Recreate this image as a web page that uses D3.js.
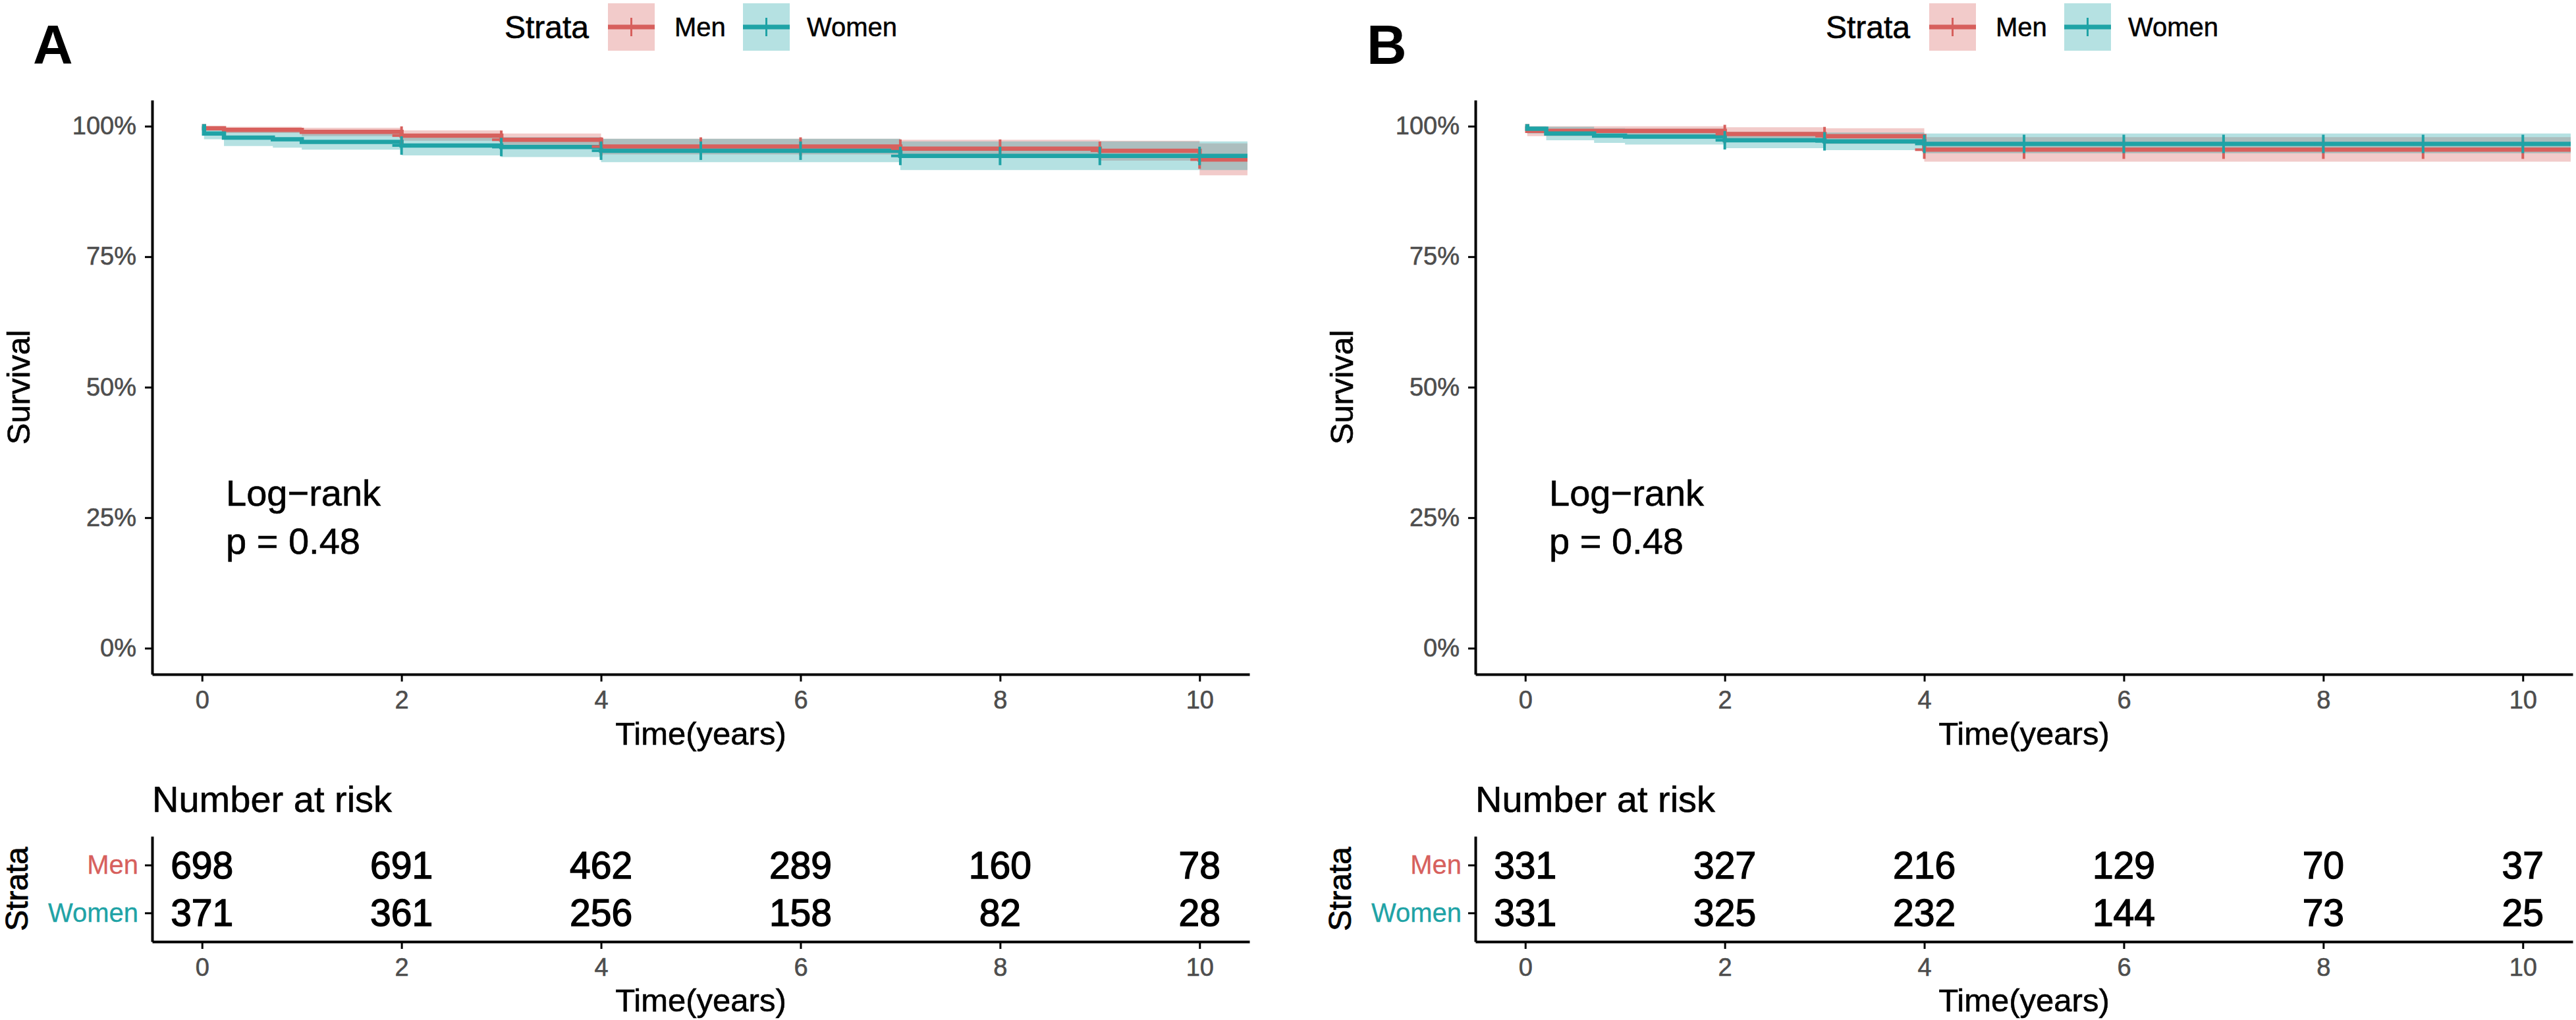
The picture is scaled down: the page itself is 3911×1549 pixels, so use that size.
<!DOCTYPE html>
<html><head><meta charset="utf-8">
<script src="https://cdn.jsdelivr.net/npm/d3@7"></script>
<style>
body{margin:0;background:#fff}
svg{display:block}
text{font-family:"Liberation Sans",Arial,Helvetica,sans-serif}
</style>
</head><body>
<svg id="c" width="3911" height="1549"></svg>
<script>
// ---------- data ----------
const strata = ["Men", "Women"];
const strataColors = ["#D7605D", "#1FA3A6"];
const timeTicks = [0, 2, 4, 6, 8, 10];
const survTicks = [0, 0.25, 0.5, 0.75, 1];
const panelLabels = ["A", "B"];
const testName = "Log\u2212rank";
const pValues = ["p = 0.48", "p = 0.48"];
const followUpEnd = [10.48, 10.48];

// Panel A
const menA_time   = [0, 0.02, 0.22, 1, 2, 3, 4, 7, 9, 10];
const menA_surv   = [1, 0.996, 0.993, 0.989, 0.982, 0.974, 0.961, 0.957, 0.953, 0.936];
const menA_lower  = [1, 0.991, 0.987, 0.981, 0.972, 0.962, 0.946, 0.940, 0.934, 0.906];
const menA_upper  = [1, 1.000, 0.999, 0.997, 0.992, 0.986, 0.976, 0.974, 0.972, 0.967];
const menA_censor = [2, 3, 4, 5, 6, 7, 8, 9, 10];

const womenA_time   = [0, 0.02, 0.22, 0.71, 1, 2, 3, 4, 7];
const womenA_surv   = [1, 0.986, 0.978, 0.975, 0.970, 0.963, 0.960, 0.953, 0.943];
const womenA_lower  = [1, 0.975, 0.962, 0.959, 0.955, 0.944, 0.941, 0.931, 0.916];
const womenA_upper  = [1, 0.998, 0.993, 0.991, 0.987, 0.982, 0.979, 0.976, 0.971];
const womenA_censor = [2, 3, 4, 5, 6, 7, 8, 9, 10];

const riskA_men   = [698, 691, 462, 289, 160, 78];
const riskA_women = [371, 361, 256, 158, 82, 28];

// Panel B
const menB_time   = [0, 0.02, 2, 3, 4];
const menB_surv   = [1, 0.991, 0.985, 0.981, 0.955];
const menB_lower  = [1, 0.981, 0.972, 0.966, 0.932];
const menB_upper  = [1, 1.000, 0.998, 0.996, 0.979];
const menB_censor = [2, 3, 4, 5, 6, 7, 8, 9, 10];

const womenB_time   = [0, 0.02, 0.21, 0.69, 1, 2, 3, 4];
const womenB_surv   = [1, 0.995, 0.986, 0.982, 0.980, 0.973, 0.971, 0.966];
const womenB_lower  = [1, 0.986, 0.973, 0.968, 0.965, 0.958, 0.954, 0.948];
const womenB_upper  = [1, 1.000, 0.999, 0.996, 0.995, 0.989, 0.988, 0.986];
const womenB_censor = [2, 3, 4, 5, 6, 7, 8, 9, 10];

const riskB_men   = [331, 327, 216, 129, 70, 37];
const riskB_women = [331, 325, 232, 144, 73, 25];

// ---------- assemble ----------
const panels = [
  { ox: 0, labelX: 50, legendOx: 0, label: panelLabels[0], p: pValues[0], end: followUpEnd[0],
    curves: [
      {time: menA_time, surv: menA_surv, lower: menA_lower, upper: menA_upper, censor: menA_censor},
      {time: womenA_time, surv: womenA_surv, lower: womenA_lower, upper: womenA_upper, censor: womenA_censor}],
    risk: [riskA_men, riskA_women] },
  { ox: 2009, labelX: 2075, legendOx: 2006, label: panelLabels[1], p: pValues[1], end: followUpEnd[1],
    curves: [
      {time: menB_time, surv: menB_surv, lower: menB_lower, upper: menB_upper, censor: menB_censor},
      {time: womenB_time, surv: womenB_surv, lower: womenB_lower, upper: womenB_upper, censor: womenB_censor}],
    risk: [riskB_men, riskB_women] }
];

const svg = d3.select("#c");
const BAND_ALPHA = 0.33;

function heavy(sel, color, w) {
  return sel.attr("stroke", color).attr("stroke-width", w).attr("paint-order", "stroke");
}

function styleAxis(g, fontSize, color) {
  g.select(".domain").attr("stroke", "#000").attr("stroke-width", 4);
  g.selectAll(".tick line").attr("stroke", "#000").attr("stroke-width", 3);
  const t = g.selectAll(".tick text").attr("font-size", fontSize).attr("fill", color)
    .attr("font-family", '"Liberation Sans",Arial,sans-serif');
  heavy(t, color, 0.6);
}

panels.forEach(P => {
  const g = svg.append("g");
  const ox = P.ox;
  const x = d3.scaleLinear().domain([-0.5, 10.5]).range([ox + 231, ox + 1897]);
  const y = d3.scaleLinear().domain([-0.05, 1.05]).range([1024, 152]);
  const midX = (x.range()[0] + x.range()[1]) / 2;

  // panel letter
  g.append("text").attr("x", P.labelX).attr("y", 97).attr("font-size", 84)
    .attr("font-weight", "bold").attr("fill", "#000").text(P.label);

  // legend
  const lg = g.append("g").attr("transform", `translate(${P.legendOx},0)`);
  heavy(lg.append("text").attr("x", 766).attr("y", 58).attr("font-size", 48).attr("fill", "#000").text("Strata"), "#000", 0.6);
  const keyX = [923, 1128], textX = [1024, 1225];
  strata.forEach((s, i) => {
    lg.append("rect").attr("x", keyX[i]).attr("y", 5).attr("width", 71).attr("height", 72)
      .attr("fill", strataColors[i]).attr("fill-opacity", BAND_ALPHA);
    lg.append("line").attr("x1", keyX[i]).attr("x2", keyX[i] + 71).attr("y1", 41).attr("y2", 41)
      .attr("stroke", strataColors[i]).attr("stroke-width", 7);
    lg.append("line").attr("x1", keyX[i] + 35.5).attr("x2", keyX[i] + 35.5).attr("y1", 27).attr("y2", 55)
      .attr("stroke", strataColors[i]).attr("stroke-width", 3);
    heavy(lg.append("text").attr("x", textX[i]).attr("y", 55).attr("font-size", 40).attr("fill", "#000").text(s), "#000", 0.5);
  });

  // bands
  const area = d3.area().curve(d3.curveStepAfter)
    .x(d => x(d[0])).y0(d => y(d[1])).y1(d => y(d[2]));
  const line = d3.line().curve(d3.curveStepAfter).x(d => x(d[0])).y(d => y(d[1]));
  const pts = P.curves.map(c => {
    const a = c.time.map((t, i) => [t, c.surv[i], c.lower[i], c.upper[i]]);
    const last = a[a.length - 1];
    a.push([P.end, last[1], last[2], last[3]]);
    return a;
  });
  pts.forEach((a, i) => {
    g.append("path").attr("d", area(a.map(d => [d[0], d[2], d[3]])))
      .attr("fill", strataColors[i]).attr("fill-opacity", BAND_ALPHA).attr("stroke", "none");
  });
  pts.forEach((a, i) => {
    g.append("path").attr("d", line(a.map(d => [d[0], d[1]])))
      .attr("fill", "none").attr("stroke", strataColors[i]).attr("stroke-width", 6.5);
  });
  // censor marks
  P.curves.forEach((c, i) => {
    c.censor.forEach(t => {
      let k = 0;
      for (let j = 0; j < c.time.length; j++) if (c.time[j] <= t) k = j;
      const cx = x(t), cy = y(c.surv[k]);
      g.append("line").attr("x1", cx).attr("x2", cx).attr("y1", cy - 14).attr("y2", cy + 14)
        .attr("stroke", strataColors[i]).attr("stroke-width", 4);
      g.append("line").attr("x1", cx - 14).attr("x2", cx + 14).attr("y1", cy).attr("y2", cy)
        .attr("stroke", strataColors[i]).attr("stroke-width", 4);
    });
  });

  // axes main
  const ax = g.append("g").attr("transform", "translate(0,1024)")
    .call(d3.axisBottom(x).tickValues(timeTicks).tickSize(11).tickSizeOuter(0).tickPadding(14).tickFormat(d3.format("d")));
  styleAxis(ax, 38, "#4D4D4D");
  const ay = g.append("g").attr("transform", `translate(${ox + 231},0)`)
    .call(d3.axisLeft(y).tickValues(survTicks).tickSize(11).tickSizeOuter(0).tickPadding(13).tickFormat(d3.format(".0%")));
  styleAxis(ay, 38, "#4D4D4D");

  heavy(g.append("text").attr("x", midX).attr("y", 1131).attr("text-anchor", "middle")
    .attr("font-size", 49).attr("fill", "#000").text("Time(years)"), "#000", 0.6);
  heavy(g.append("text").attr("transform", `translate(${ox + 45},588) rotate(-90)`).attr("text-anchor", "middle")
    .attr("font-size", 49).attr("fill", "#000").text("Survival"), "#000", 0.6);

  // log-rank annotation
  heavy(g.append("text").attr("x", ox + 343).attr("y", 768).attr("font-size", 56).attr("fill", "#000").text(testName), "#000", 0.6);
  heavy(g.append("text").attr("x", ox + 343).attr("y", 841).attr("font-size", 56).attr("fill", "#000").text(P.p), "#000", 0.6);

  // risk table
  heavy(g.append("text").attr("x", ox + 231).attr("y", 1233).attr("font-size", 56).attr("fill", "#000").text("Number at risk"), "#000", 0.6);
  const ys = d3.scalePoint().domain(strata).range([1270, 1430]).padding(0.6);
  P.risk.forEach((row, i) => {
    row.forEach((v, j) => {
      heavy(g.append("text").attr("x", x(timeTicks[j])).attr("y", ys(strata[i]) + 20)
        .attr("text-anchor", "middle").attr("font-size", 57).attr("fill", "#000").text(v), "#000", 1.4);
    });
  });
  const tx = g.append("g").attr("transform", "translate(0,1430)")
    .call(d3.axisBottom(x).tickValues(timeTicks).tickSize(11).tickSizeOuter(0).tickPadding(14).tickFormat(d3.format("d")));
  styleAxis(tx, 38, "#4D4D4D");
  const ty = g.append("g").attr("transform", `translate(${ox + 231},0)`)
    .call(d3.axisLeft(ys).tickSize(11).tickSizeOuter(0).tickPadding(10));
  styleAxis(ty, 40, "#000");
  ty.selectAll(".tick text").each(function(d) {
    const c = strataColors[strata.indexOf(d)];
    d3.select(this).attr("fill", c).attr("stroke", c).attr("stroke-width", 0.3);
  });
  heavy(g.append("text").attr("x", midX).attr("y", 1536).attr("text-anchor", "middle")
    .attr("font-size", 49).attr("fill", "#000").text("Time(years)"), "#000", 0.6);
  heavy(g.append("text").attr("transform", `translate(${ox + 42},1350) rotate(-90)`).attr("text-anchor", "middle")
    .attr("font-size", 48).attr("fill", "#000").text("Strata"), "#000", 0.8);
});
</script>
</body></html>
